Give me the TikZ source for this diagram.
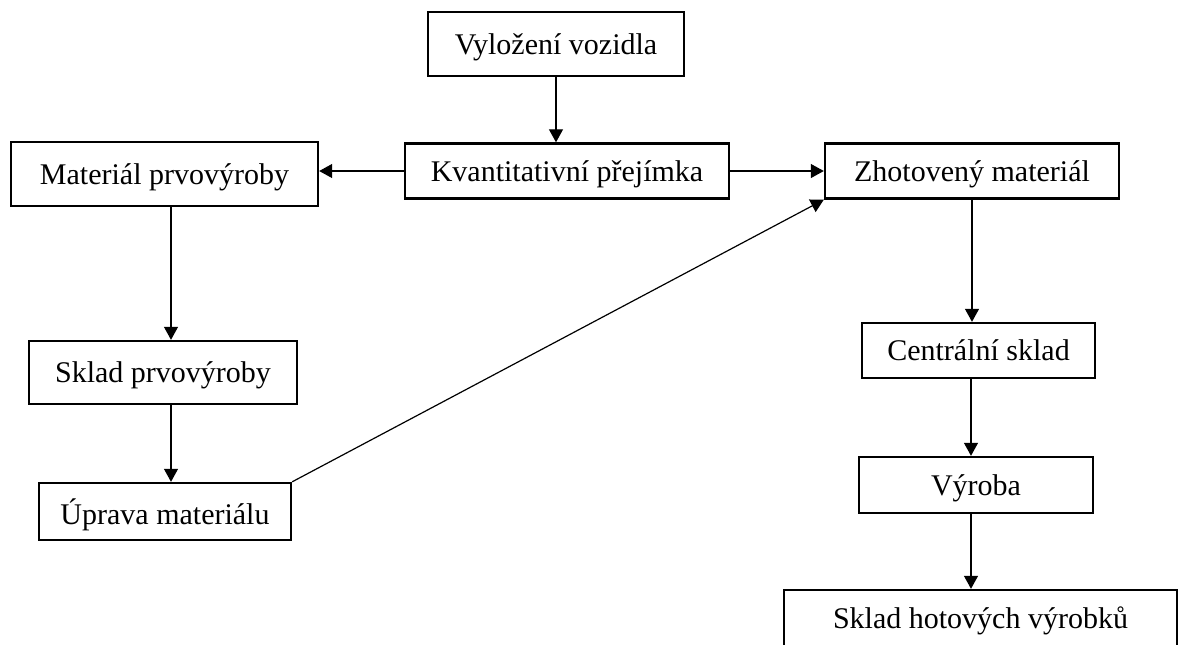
\documentclass[tikz,border=0pt]{standalone}
\usepackage{fontspec}
\setmainfont{Liberation Serif}
\usetikzlibrary{arrows.meta}
\begin{document}
\begin{tikzpicture}[x=0.5pt,y=-0.5pt,
  box/.style={draw,line width=1.2pt,inner sep=0pt,font=\fontsize{15}{18}\selectfont,text depth=0pt},
  arr/.style={line width=0.6pt,-{Triangle[length=6.5pt,width=7pt]}},
  con/.style={line width=0.6pt}]
\useasboundingbox (0,0) rectangle (1180,644);
\clip (0,0) rectangle (1180,644);
\node[box,minimum width=128pt,minimum height=32pt] (V) at (556,44) {Vyložení vozidla};
\node[box,minimum width=162pt,minimum height=27.5pt] (K) at (567,171) {Kvantitativní přejímka};
\node[box,minimum width=153.5pt,minimum height=32pt] (M) at (164.5,174) {Materiál prvovýroby};
\node[box,minimum width=147pt,minimum height=27.5pt] (Z) at (972,171) {Zhotovený materiál};
\node[box,minimum width=134pt,minimum height=31.5pt] (S) at (163,372.5) {Sklad prvovýroby};
\node[box,minimum width=126pt,minimum height=28.5pt] (U) at (165,511.5) {Úprava materiálu};
\node[box,minimum width=116.5pt,minimum height=27.5pt] (C) at (978.5,350.5) {Centrální sklad};
\node[box,minimum width=117pt,minimum height=28pt] (Vy) at (976,485) {Výroba};
\node[box,minimum width=196.5pt,minimum height=28pt] (H) at (980.5,618) {Sklad hotových výrobků};
\draw[arr] (V.south) -- (V.south |- K.north);
\draw[arr] (K.west) -- (M.east |- K.west);
\draw[arr] (K.east) -- (Z.west |- K.east);
\draw[arr] ([xshift=3.25pt]M.south) -- ([xshift=3.25pt]M.south |- S.north);
\draw[arr] ([xshift=4pt]S.south) -- ([xshift=4pt]S.south |- U.north);
\draw[arr] (U.north east) -- (Z.south west);
\draw[arr] (Z.south) -- (Z.south |- C.north);
\draw[arr] ([xshift=-3.75pt]C.south) -- ([xshift=-3.75pt]C.south |- Vy.north);
\draw[arr] ([xshift=-2.5pt]Vy.south) -- ([xshift=-2.5pt]Vy.south |- H.north);
\end{tikzpicture}
\end{document}
